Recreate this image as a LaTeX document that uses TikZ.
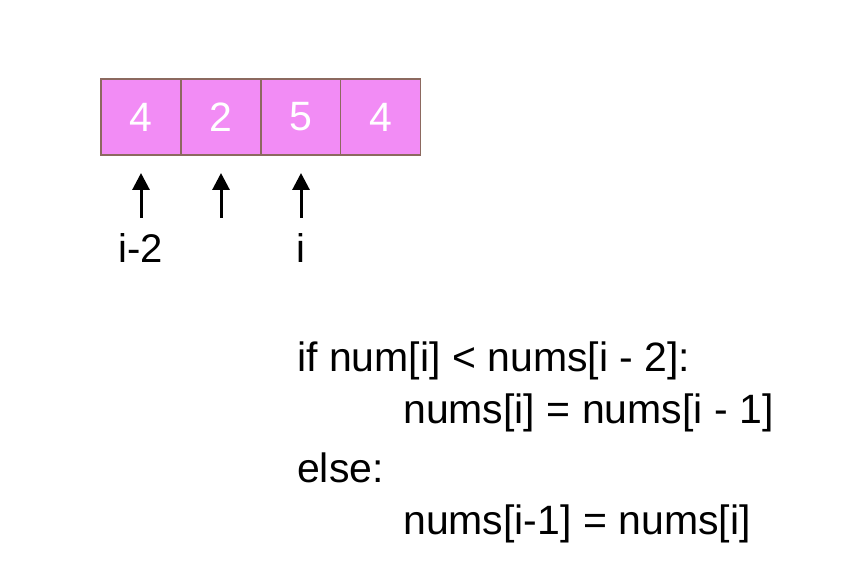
\documentclass[tikz,border=0pt]{standalone}
\usepackage{fontspec}
\setmainfont{Liberation Sans}
\usetikzlibrary{arrows.meta}
\definecolor{cellpink}{RGB}{242,140,245}
\definecolor{cellborder}{RGB}{140,105,95}
\begin{document}
\begin{tikzpicture}[x=1pt,y=-1pt,
  cell/.style={draw=cellborder,line width=1.4pt,fill=cellpink,minimum width=80pt,minimum height=76pt,inner sep=0pt,font=\fontsize{41}{41}\selectfont,text=white},
  ptr/.style={line width=3pt,-{Triangle[width=17pt,length=17pt]}},
  lbl/.style={font=\fontsize{40}{40}\selectfont,anchor=base},
  code/.style={font=\fontsize{41}{41}\selectfont,anchor=base west,inner sep=0pt}]
\useasboundingbox (0,0) rectangle (862,564);
\fill[white] (0,0) rectangle (862,564);
\node[cell] (c1) at (141,117) {4};
\node[cell] (c2) at (221,117) {2};
\node[cell] (c3) at (301,117) {5};
\node[cell] (c4) at (380.5,117) {4};
\coordinate (p1) at (141,218); \coordinate (t1) at (141,173);
\coordinate (p2) at (221,218); \coordinate (t2) at (221,173);
\coordinate (p3) at (301,218); \coordinate (t3) at (301,173);
\draw[ptr] (p1) -- (t1);
\draw[ptr] (p2) -- (t2);
\draw[ptr] (p3) -- (t3);
\node[lbl] (l1) at (141,262) {i-2};
\node[lbl] (l3) at (301,262) {i};
\node[code] (k1) at (297,371) {if num[i] < nums[i - 2]:};
\node[code] (k2) at (403,423) {nums[i] = nums[i - 1]};
\node[code] (k3) at (297,482) {else:};
\node[code] (k4) at (403,534) {nums[i-1] = nums[i]};
\end{tikzpicture}
\end{document}
